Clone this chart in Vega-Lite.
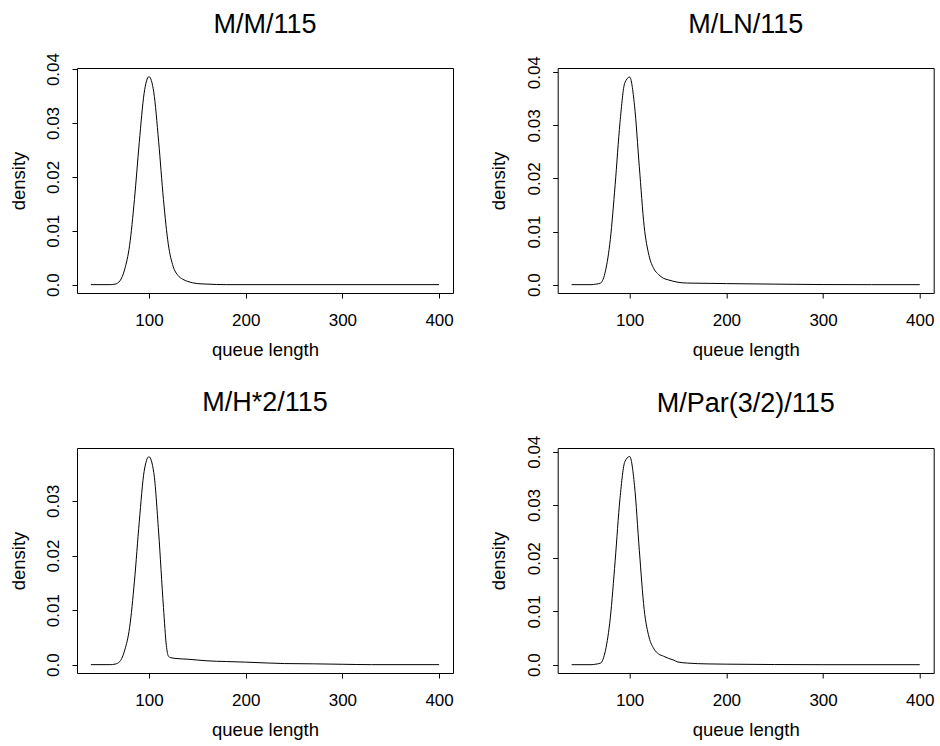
{
  "$schema": "https://vega.github.io/schema/vega-lite/v6.json",
  "background": "white",
  "padding": {"left": 8, "top": 10, "right": 5, "bottom": 5},
  "config": {
    "font": "Liberation Sans",
    "view": {"stroke": "black", "strokeWidth": 1},
    "axis": {"domain": false, "ticks": true, "tickColor": "black", "tickSize": 5, "tickWidth": 1, "grid": false, "labelColor": "black", "labelFontSize": 17, "labelFont": "Liberation Sans", "titleFont": "Liberation Sans", "titleFontSize": 18.5, "titleFontWeight": "normal", "titleColor": "black", "labelOverlap": false, "labelFlush": false},
    "title": {"fontSize": 27, "fontWeight": "normal", "font": "Liberation Sans", "color": "black", "anchor": "middle", "frame": "group", "baseline": "alphabetic"},
    "line": {"color": "black", "strokeWidth": 1, "interpolate": "monotone"}
  },
  "datasets": {
    "d": [
      {"m": "M/M/115", "x": 40, "y": 0},
      {"m": "M/M/115", "x": 60, "y": 0},
      {"m": "M/M/115", "x": 65, "y": 0.0001},
      {"m": "M/M/115", "x": 70, "y": 0.0007},
      {"m": "M/M/115", "x": 75, "y": 0.0029},
      {"m": "M/M/115", "x": 80, "y": 0.0073},
      {"m": "M/M/115", "x": 85, "y": 0.0158},
      {"m": "M/M/115", "x": 90, "y": 0.0264},
      {"m": "M/M/115", "x": 95, "y": 0.0355},
      {"m": "M/M/115", "x": 100, "y": 0.0386},
      {"m": "M/M/115", "x": 105, "y": 0.0357},
      {"m": "M/M/115", "x": 110, "y": 0.0266},
      {"m": "M/M/115", "x": 115, "y": 0.0158},
      {"m": "M/M/115", "x": 120, "y": 0.0075},
      {"m": "M/M/115", "x": 125, "y": 0.0034},
      {"m": "M/M/115", "x": 130, "y": 0.0017},
      {"m": "M/M/115", "x": 135, "y": 0.001},
      {"m": "M/M/115", "x": 140, "y": 0.0006},
      {"m": "M/M/115", "x": 150, "y": 0.0002},
      {"m": "M/M/115", "x": 160, "y": 0.0001},
      {"m": "M/M/115", "x": 180, "y": 0},
      {"m": "M/M/115", "x": 400, "y": 0},

      {"m": "M/LN/115", "x": 40, "y": 0},
      {"m": "M/LN/115", "x": 60, "y": 0},
      {"m": "M/LN/115", "x": 65, "y": 0.0001},
      {"m": "M/LN/115", "x": 70, "y": 0.0003},
      {"m": "M/LN/115", "x": 75, "y": 0.0026},
      {"m": "M/LN/115", "x": 80, "y": 0.0085},
      {"m": "M/LN/115", "x": 85, "y": 0.0188},
      {"m": "M/LN/115", "x": 90, "y": 0.0305},
      {"m": "M/LN/115", "x": 95, "y": 0.038},
      {"m": "M/LN/115", "x": 100, "y": 0.0391},
      {"m": "M/LN/115", "x": 105, "y": 0.0338},
      {"m": "M/LN/115", "x": 110, "y": 0.0222},
      {"m": "M/LN/115", "x": 115, "y": 0.011},
      {"m": "M/LN/115", "x": 120, "y": 0.0055},
      {"m": "M/LN/115", "x": 125, "y": 0.003},
      {"m": "M/LN/115", "x": 130, "y": 0.0019},
      {"m": "M/LN/115", "x": 135, "y": 0.0012},
      {"m": "M/LN/115", "x": 140, "y": 0.0009},
      {"m": "M/LN/115", "x": 150, "y": 0.00045},
      {"m": "M/LN/115", "x": 160, "y": 0.0003},
      {"m": "M/LN/115", "x": 180, "y": 0.00025},
      {"m": "M/LN/115", "x": 200, "y": 0.0002},
      {"m": "M/LN/115", "x": 250, "y": 0.0001},
      {"m": "M/LN/115", "x": 300, "y": 0.00002},
      {"m": "M/LN/115", "x": 350, "y": 0},
      {"m": "M/LN/115", "x": 400, "y": 0},

      {"m": "M/H*2/115", "x": 40, "y": 0},
      {"m": "M/H*2/115", "x": 60, "y": 0},
      {"m": "M/H*2/115", "x": 65, "y": 0.0001},
      {"m": "M/H*2/115", "x": 70, "y": 0.0006},
      {"m": "M/H*2/115", "x": 75, "y": 0.0027},
      {"m": "M/H*2/115", "x": 80, "y": 0.0068},
      {"m": "M/H*2/115", "x": 85, "y": 0.0153},
      {"m": "M/H*2/115", "x": 90, "y": 0.0262},
      {"m": "M/H*2/115", "x": 95, "y": 0.0354},
      {"m": "M/H*2/115", "x": 100, "y": 0.0381},
      {"m": "M/H*2/115", "x": 105, "y": 0.0352},
      {"m": "M/H*2/115", "x": 110, "y": 0.0243},
      {"m": "M/H*2/115", "x": 115, "y": 0.0105},
      {"m": "M/H*2/115", "x": 118, "y": 0.0035},
      {"m": "M/H*2/115", "x": 120, "y": 0.0016},
      {"m": "M/H*2/115", "x": 122, "y": 0.0013},
      {"m": "M/H*2/115", "x": 130, "y": 0.0011},
      {"m": "M/H*2/115", "x": 140, "y": 0.001},
      {"m": "M/H*2/115", "x": 160, "y": 0.0007},
      {"m": "M/H*2/115", "x": 180, "y": 0.00057},
      {"m": "M/H*2/115", "x": 200, "y": 0.00046},
      {"m": "M/H*2/115", "x": 240, "y": 0.0002},
      {"m": "M/H*2/115", "x": 270, "y": 0.00015},
      {"m": "M/H*2/115", "x": 300, "y": 0.00007},
      {"m": "M/H*2/115", "x": 330, "y": 0},
      {"m": "M/H*2/115", "x": 400, "y": 0},

      {"m": "M/Par(3/2)/115", "x": 40, "y": 0},
      {"m": "M/Par(3/2)/115", "x": 60, "y": 0},
      {"m": "M/Par(3/2)/115", "x": 65, "y": 0.0001},
      {"m": "M/Par(3/2)/115", "x": 70, "y": 0.0003},
      {"m": "M/Par(3/2)/115", "x": 75, "y": 0.0027},
      {"m": "M/Par(3/2)/115", "x": 80, "y": 0.0088},
      {"m": "M/Par(3/2)/115", "x": 85, "y": 0.0195},
      {"m": "M/Par(3/2)/115", "x": 90, "y": 0.0312},
      {"m": "M/Par(3/2)/115", "x": 95, "y": 0.0381},
      {"m": "M/Par(3/2)/115", "x": 100, "y": 0.0391},
      {"m": "M/Par(3/2)/115", "x": 105, "y": 0.0337},
      {"m": "M/Par(3/2)/115", "x": 110, "y": 0.0215},
      {"m": "M/Par(3/2)/115", "x": 115, "y": 0.0104},
      {"m": "M/Par(3/2)/115", "x": 120, "y": 0.0052},
      {"m": "M/Par(3/2)/115", "x": 125, "y": 0.003},
      {"m": "M/Par(3/2)/115", "x": 130, "y": 0.002},
      {"m": "M/Par(3/2)/115", "x": 135, "y": 0.0016},
      {"m": "M/Par(3/2)/115", "x": 140, "y": 0.0012},
      {"m": "M/Par(3/2)/115", "x": 145, "y": 0.0009},
      {"m": "M/Par(3/2)/115", "x": 150, "y": 0.0005},
      {"m": "M/Par(3/2)/115", "x": 160, "y": 0.0003},
      {"m": "M/Par(3/2)/115", "x": 180, "y": 0.00015},
      {"m": "M/Par(3/2)/115", "x": 200, "y": 0.0001},
      {"m": "M/Par(3/2)/115", "x": 250, "y": 0.00003},
      {"m": "M/Par(3/2)/115", "x": 300, "y": 0},
      {"m": "M/Par(3/2)/115", "x": 400, "y": 0}
    ]
  },
  "columns": 2,
  "spacing": {"row": 155, "column": 104.7},
  "bounds": "flush",
  "concat": [
    {
      "title": {"text": "M/M/115", "dy": -10},
      "width": 376, "height": 225,
      "data": {"name": "d"},
      "transform": [{"filter": "datum.m == 'M/M/115'"}],
      "mark": "line",
      "encoding": {
        "x": {"field": "x", "type": "quantitative", "scale": {"domain": [25.6, 414.4], "nice": false, "zero": false},
              "axis": {"values": [100, 200, 300, 400], "title": "queue length", "labelBaseline": "alphabetic", "labelPadding": 27.7, "titleBaseline": "alphabetic", "titleY": 62}},
        "y": {"field": "y", "type": "quantitative", "scale": {"domain": [-0.00155, 0.0402], "nice": false, "zero": false},
              "axis": {"values": [0, 0.01, 0.02, 0.03, 0.04], "labelExpr": "datum.value == 0 ? '0.0' : format(datum.value, '.2f')", "labelAngle": -90, "labelAlign": "center", "labelBaseline": "alphabetic", "labelPadding": 13.7, "title": "density", "titleAngle": -90, "titleBaseline": "alphabetic", "titleAlign": "center", "titleX": -53, "titleY": 112.5}}
      }
    },
    {
      "title": {"text": "M/LN/115", "dy": -13},
      "width": 376, "height": 225,
      "data": {"name": "d"},
      "transform": [{"filter": "datum.m == 'M/LN/115'"}],
      "mark": "line",
      "encoding": {
        "x": {"field": "x", "type": "quantitative", "scale": {"domain": [25.6, 414.4], "nice": false, "zero": false},
              "axis": {"values": [100, 200, 300, 400], "title": "queue length", "labelBaseline": "alphabetic", "labelPadding": 27.7, "titleBaseline": "alphabetic", "titleY": 62}},
        "y": {"field": "y", "type": "quantitative", "scale": {"domain": [-0.00157, 0.0408], "nice": false, "zero": false},
              "axis": {"values": [0, 0.01, 0.02, 0.03, 0.04], "labelExpr": "datum.value == 0 ? '0.0' : format(datum.value, '.2f')", "labelAngle": -90, "labelAlign": "center", "labelBaseline": "alphabetic", "labelPadding": 13.7, "title": "density", "titleAngle": -90, "titleBaseline": "alphabetic", "titleAlign": "center", "titleX": -53, "titleY": 112.5}}
      }
    },
    {
      "title": {"text": "M/H*2/115", "dy": -27},
      "width": 376, "height": 225,
      "data": {"name": "d"},
      "transform": [{"filter": "datum.m == 'M/H*2/115'"}],
      "mark": "line",
      "encoding": {
        "x": {"field": "x", "type": "quantitative", "scale": {"domain": [25.6, 414.4], "nice": false, "zero": false},
              "axis": {"values": [100, 200, 300, 400], "title": "queue length", "labelBaseline": "alphabetic", "labelPadding": 27.7, "titleBaseline": "alphabetic", "titleY": 62}},
        "y": {"field": "y", "type": "quantitative", "scale": {"domain": [-0.00153, 0.0397], "nice": false, "zero": false},
              "axis": {"values": [0, 0.01, 0.02, 0.03], "labelExpr": "datum.value == 0 ? '0.0' : format(datum.value, '.2f')", "labelAngle": -90, "labelAlign": "center", "labelBaseline": "alphabetic", "labelPadding": 13.7, "title": "density", "titleAngle": -90, "titleBaseline": "alphabetic", "titleAlign": "center", "titleX": -53, "titleY": 112.5}}
      }
    },
    {
      "title": {"text": "M/Par(3/2)/115", "dy": -13},
      "width": 376, "height": 225,
      "data": {"name": "d"},
      "transform": [{"filter": "datum.m == 'M/Par(3/2)/115'"}],
      "mark": "line",
      "encoding": {
        "x": {"field": "x", "type": "quantitative", "scale": {"domain": [25.6, 414.4], "nice": false, "zero": false},
              "axis": {"values": [100, 200, 300, 400], "title": "queue length", "labelBaseline": "alphabetic", "labelPadding": 27.7, "titleBaseline": "alphabetic", "titleY": 62}},
        "y": {"field": "y", "type": "quantitative", "scale": {"domain": [-0.00156, 0.0407], "nice": false, "zero": false},
              "axis": {"values": [0, 0.01, 0.02, 0.03, 0.04], "labelExpr": "datum.value == 0 ? '0.0' : format(datum.value, '.2f')", "labelAngle": -90, "labelAlign": "center", "labelBaseline": "alphabetic", "labelPadding": 13.7, "title": "density", "titleAngle": -90, "titleBaseline": "alphabetic", "titleAlign": "center", "titleX": -53, "titleY": 112.5}}
      }
    }
  ]
}
